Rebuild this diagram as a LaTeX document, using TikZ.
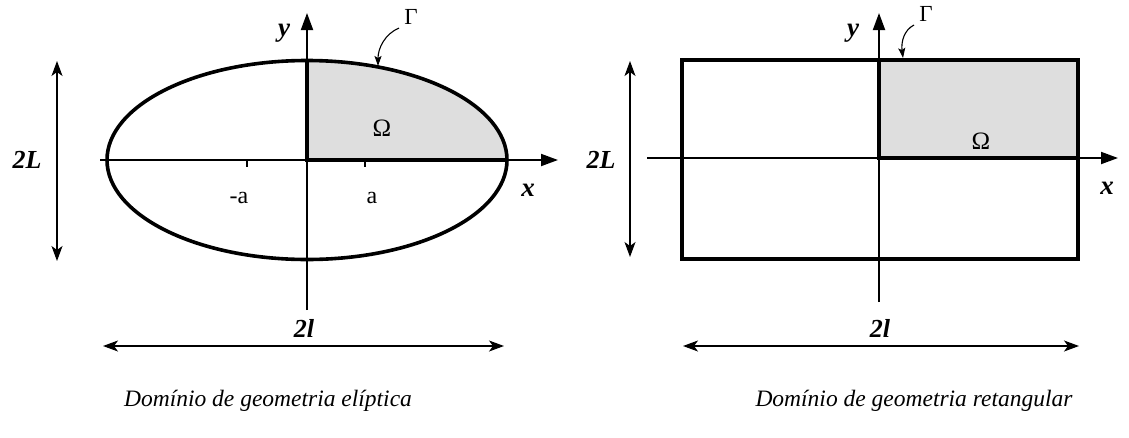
\documentclass[tikz,border=0pt]{standalone}
\usepackage{fontspec}
\setmainfont{Liberation Serif}
\usetikzlibrary{arrows.meta}
\definecolor{regiongray}{RGB}{222,222,222}
\tikzset{
  axisline/.style={line width=1.9pt,-{Triangle[length=17pt,width=12pt]}},
  boundary/.style={line width=3.6pt},
  dimline/.style={line width=1.2pt,{Stealth[length=15pt,width=11pt,inset=4pt]}-{Stealth[length=15pt,width=11pt,inset=4pt]}},
  gamarrow/.style={line width=1.1pt,-{Stealth[length=10pt,width=7pt,inset=2pt]}},
  axlabel/.style={font=\fontsize{27}{30}\selectfont\bfseries\itshape,inner sep=0pt},
  dimlabel/.style={font=\fontsize{26}{30}\selectfont\bfseries\itshape,inner sep=0pt},
  greek/.style={font=\fontsize{25}{28}\selectfont,inner sep=0pt},
  gammalabel/.style={font=\fontsize{23}{26}\selectfont,inner sep=0pt},
  ticklabel/.style={font=\fontsize{24}{27}\selectfont,inner sep=0pt},
  caption/.style={font=\fontsize{23.5}{27}\selectfont\itshape,inner sep=0pt}
}
\begin{document}
\begin{tikzpicture}[x=1pt,y=-1pt]
\useasboundingbox (0,0) rectangle (1129,437);
% ---------------- left: ellipse ----------------
\begin{scope}
\clip (307,160) ellipse [x radius=200, y radius=99.5];
\fill[regiongray] (307,160) rectangle (520,50);
\end{scope}
\coordinate (LxS) at (100,160);
\coordinate (LxE) at (558,160);
\coordinate (LyS) at (307,310);
\coordinate (LyE) at (307,13);
\draw[axisline] (LxS) -- (LxE);
\draw[axisline] (LyS) -- (LyE);
\coordinate (LO) at (307,160);
\coordinate (Ltop) at (307,61);
\coordinate (Lright) at (505,160);
\draw[boundary] (Ltop) -- (LO) -- (Lright);
\draw[boundary] (LO) ellipse [x radius=200, y radius=99.5];
% ticks
\coordinate (Ltm) at (247,160);
\coordinate (Ltp) at (365,160);
\draw[line width=1.3pt] (Ltm) -- ++(0,7);
\draw[line width=1.3pt] (Ltp) -- ++(0,7);
\node[ticklabel] (lma) at (239,198) {-a};
\node[ticklabel] (la) at (372,198) {a};
\node[greek] (lOm) at (382,128) {Ω};
\node[axlabel] (ly) at (284,33) {y};
\node[axlabel] (lx) at (528,190) {x};
\node[gammalabel] (lGam) at (411,17) {Γ};
\coordinate (LGs) at (399,28);
\coordinate (LGe) at (378,66);
\draw[gamarrow] (LGs) .. controls (385,34) and (378,48) .. (LGe);
% dimension arrows
\coordinate (L2La) at (57,61);
\coordinate (L2Lb) at (57,261);
\draw[dimline] (L2La) -- (L2Lb);
\node[dimlabel] (l2L) at (27,160) {2L};
\coordinate (L2la) at (103,346);
\coordinate (L2lb) at (504,346);
\draw[dimline] (L2la) -- (L2lb);
\node[dimlabel] (l2l) at (304,328) {2l};
\node[caption] (lcap) at (268,401) {Domínio de geometria elíptica};
% ---------------- right: rectangle ----------------
\coordinate (RO) at (879,158);
\fill[regiongray] (RO) rectangle (1078,60);
\coordinate (RxS) at (647,158);
\coordinate (RxE) at (1118,158);
\coordinate (RyS) at (879,302);
\coordinate (RyE) at (879,13);
\draw[axisline] (RxS) -- (RxE);
\draw[axisline] (RyS) -- (RyE);
\coordinate (Rtop) at (879,60);
\coordinate (Rright) at (1078,158);
\draw[boundary] (Rtop) -- (RO) -- (Rright);
\draw[boundary] (682,60) rectangle (1078,259);
\node[greek] (rOm) at (981,141) {Ω};
\node[axlabel] (ry) at (853,33) {y};
\node[axlabel] (rx) at (1107,188) {x};
\node[gammalabel] (rGam) at (926,14) {Γ};
\coordinate (RGs) at (914,25);
\coordinate (RGe) at (903,58);
\draw[gamarrow] (RGs) .. controls (904,30) and (901,42) .. (RGe);
\coordinate (R2La) at (630,61);
\coordinate (R2Lb) at (630,257);
\draw[dimline] (R2La) -- (R2Lb);
\node[dimlabel] (r2L) at (601,160) {2L};
\coordinate (R2la) at (683,346);
\coordinate (R2lb) at (1079,346);
\draw[dimline] (R2la) -- (R2lb);
\node[dimlabel] (r2l) at (880,328) {2l};
\node[caption] (rcap) at (914,401) {Domínio de geometria retangular};
\end{tikzpicture}
\end{document}
